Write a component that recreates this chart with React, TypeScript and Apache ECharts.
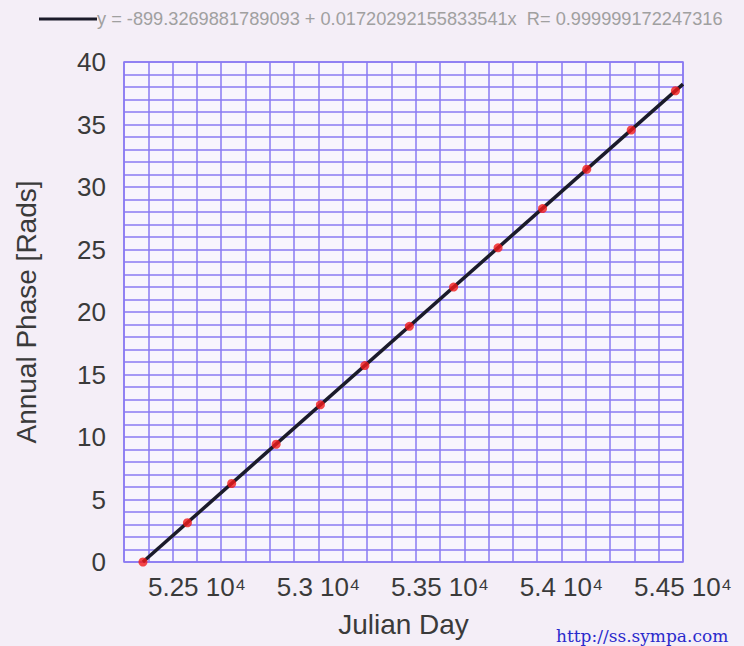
import React, { useEffect, useRef } from "react";
import * as echarts from "echarts";

// Observed data: Julian Day vs annual phase
const julianDays = [52278, 52461, 52643, 52826, 53008, 53191, 53374, 53556, 53739, 53922, 54104, 54287, 54469];
const phases = [0, 3.14, 6.28, 9.42, 12.57, 15.71, 18.85, 21.99, 25.13, 28.27, 31.42, 34.56, 37.7];

// Fit line end points (y = -899.3269881789093 + 0.01720292155833541 x)
const fitX = [52277.6, 54500];
const fitY = [0, 38.23];

const fitLabel = "y = -899.3269881789093 + 0.01720292155833541x  R= 0.999999172247316";
const xAxisTitle = "Julian Day";
const yAxisTitle = "Annual Phase [Rads]";
const footerText = "http://ss.sympa.com";

const xMin = 52200;
const xMax = 54500;
const yMin = 0;
const yMax = 40;

export default function App() {
  const ref = useRef<HTMLDivElement>(null);
  useEffect(() => {
    document.body.style.margin = "0";
    document.body.style.background = "#f4eef7";
    const chart = echarts.init(ref.current!, null, { renderer: "svg" });
    const gridColor = "#8a7af2";
    chart.setOption({
      animation: false,
      backgroundColor: "#f4eef7",
      textStyle: { fontFamily: "Liberation Sans, Arial, sans-serif" },
      legend: {
        show: true,
        data: [fitLabel],
        icon: "rect",
        left: 34,
        top: 5,
        itemWidth: 58,
        itemHeight: 3,
        itemGap: 2,
        textStyle: { fontSize: 18.2, color: "#a0a0a0", padding: [0, 0, 0, -5] },
      },
      grid: {
        left: 124,
        right: 61,
        top: 62,
        bottom: 84,
        show: true,
        backgroundColor: "#f8f5fd",
        borderColor: gridColor,
        borderWidth: 1.5,
      },
      xAxis: {
        type: "value",
        min: xMin,
        max: xMax,
        interval: 100,
        name: xAxisTitle,
        nameLocation: "middle",
        nameGap: 48,
        nameTextStyle: { fontSize: 28, color: "#3a3a3a" },
        axisLine: { show: false },
        axisTick: { show: false },
        splitLine: { show: true, lineStyle: { color: gridColor, width: 1.5 } },
        axisLabel: {
          fontSize: 26,
          color: "#3a3a3a",
          margin: 12,
          formatter: (v: number) =>
            Math.round(v) % 500 === 0 ? `${(v / 10000).toString()} 10⁴` : "",
        },
      },
      yAxis: {
        type: "value",
        min: yMin,
        max: yMax,
        interval: 1,
        name: yAxisTitle,
        nameLocation: "middle",
        nameGap: 84,
        nameTextStyle: { fontSize: 28, color: "#3a3a3a" },
        axisLine: { show: false },
        axisTick: { show: false },
        splitLine: { show: true, lineStyle: { color: gridColor, width: 1.5 } },
        axisLabel: {
          fontSize: 26,
          color: "#3a3a3a",
          margin: 18,
          formatter: (v: number) => (Math.round(v) % 5 === 0 ? String(v) : ""),
        },
      },
      series: [
        {
          name: fitLabel,
          type: "line",
          data: fitX.map((x, i) => [x, fitY[i]]),
          symbol: "none",
          lineStyle: { color: "#1b1b2a", width: 3.5 },
          itemStyle: { color: "#1b1b2a" },
          z: 3,
        },
        {
          name: "data",
          type: "scatter",
          data: julianDays.map((x, i) => [x, phases[i]]),
          symbol: "circle",
          symbolSize: 9,
          itemStyle: { color: "#f21a1a" },
          z: 4,
        },
      ],
      graphic: [
        {
          type: "text",
          left: 556,
          top: 627,
          style: {
            text: footerText,
            font: "17px 'DejaVu Serif', serif",
            fill: "#2a2acc",
          },
        },
      ],
    });
    return () => chart.dispose();
  }, []);
  return <div ref={ref} style={{ width: 744, height: 646 }} />;
}
